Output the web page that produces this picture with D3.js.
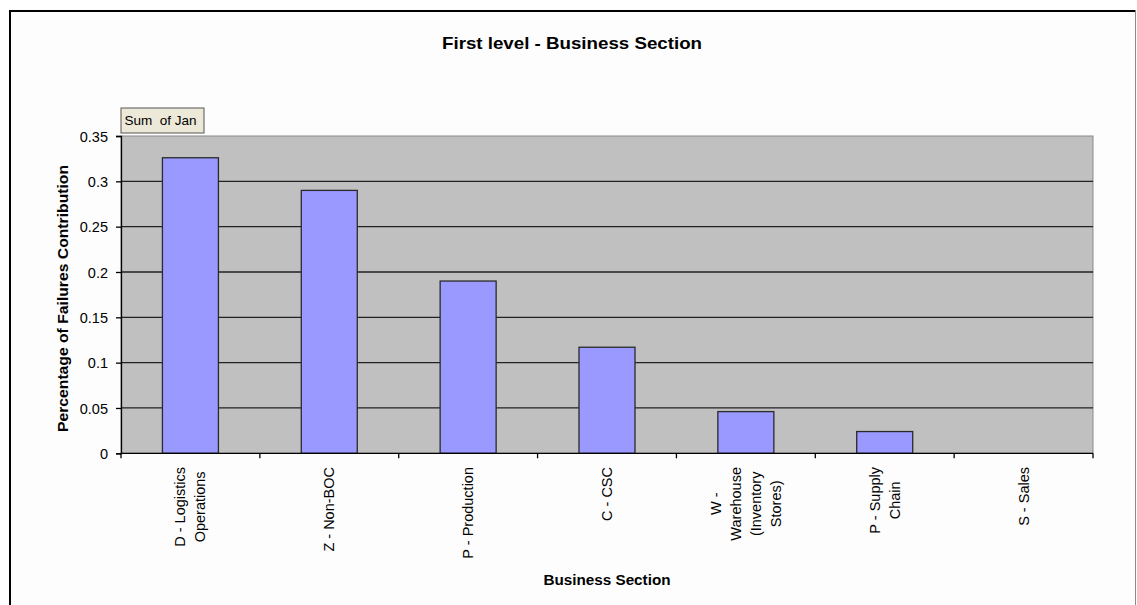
<!DOCTYPE html>
<html>
<head>
<meta charset="utf-8">
<script src="https://cdn.jsdelivr.net/npm/d3@7/dist/d3.min.js"></script>
<style>
  html, body { margin: 0; padding: 0; background: #ffffff; }
  svg { display: block; }
</style>
</head>
<body>
<svg id="chart" width="1137" height="605"></svg>
<script>
// ---- data ----
const categories = [
  ["D - Logistics", "Operations"],
  ["Z - Non-BOC"],
  ["P - Production"],
  ["C - CSC"],
  ["W -", "Warehouse", "(Inventory", "Stores)"],
  ["P - Supply", "Chain"],
  ["S - Sales"]
];
const values = [0.326, 0.290, 0.190, 0.117, 0.046, 0.024, 0];
const yTicks = [0, 0.05, 0.1, 0.15, 0.2, 0.25, 0.3, 0.35];
const yTickLabels = ["0", "0.05", "0.1", "0.15", "0.2", "0.25", "0.3", "0.35"];
const chartTitle = "First level - Business Section";
const xTitle = "Business Section";
const yTitle = "Percentage of Failures Contribution";
const fieldButton = "Sum  of Jan";

// ---- layout ----
const svg = d3.select("#chart");
const plot = { left: 121, right: 1093, top: 136, bottom: 453.3 };
const font = "'Liberation Sans', Arial, sans-serif";

// chart area background and frame
svg.append("rect").attr("x", 10).attr("y", 11).attr("width", 1125).attr("height", 600)
  .attr("fill", "#fdfdfd");
svg.append("path").attr("d", "M10,605 L10,11 L1135.5,11")
  .attr("fill", "none").attr("stroke", "#000").attr("stroke-width", 2);
svg.append("path").attr("d", "M1135.5,11 L1135.5,605")
  .attr("fill", "none").attr("stroke", "#8a8a8a").attr("stroke-width", 1);

const x = d3.scaleBand().domain(d3.range(categories.length))
  .range([plot.left, plot.right]).paddingInner(0).paddingOuter(0);
const y = d3.scaleLinear().domain([0, 0.35]).range([plot.bottom, plot.top]);

// plot area
svg.append("rect").attr("x", plot.left).attr("y", plot.top)
  .attr("width", plot.right - plot.left).attr("height", plot.bottom - plot.top)
  .attr("fill", "#c0c0c0").attr("stroke", "#8a8a8a").attr("stroke-width", 1);

// gridlines
svg.append("g").selectAll("line").data(yTicks.filter(d => d > 0 && d < 0.35)).join("line")
  .attr("x1", plot.left).attr("x2", plot.right)
  .attr("y1", d => y(d)).attr("y2", d => y(d))
  .attr("stroke", "#222").attr("stroke-width", 1.3);

// bars
const barW = 56;
svg.append("g").selectAll("rect").data(values).join("rect")
  .attr("x", (d, i) => x(i) + x.bandwidth() / 2 - barW / 2)
  .attr("width", barW)
  .attr("y", d => y(d))
  .attr("height", d => y(0) - y(d))
  .attr("fill", "#9999ff")
  .attr("stroke", d => d > 0 ? "#2a2a2a" : "none")
  .attr("stroke-width", 1.3);

// y axis
const yAxis = d3.axisLeft(y).tickValues(yTicks)
  .tickFormat((d, i) => yTickLabels[i]).tickSize(5).tickPadding(8);
const gy = svg.append("g").attr("transform", `translate(${plot.left},0)`).call(yAxis);
gy.select(".domain").attr("stroke", "#000").attr("stroke-width", 1.3);
gy.selectAll(".tick line").attr("stroke", "#000").attr("stroke-width", 1.3);
gy.selectAll(".tick text").attr("font-family", font).attr("font-size", 14.5)
  .attr("fill", "#000").attr("dy", "0.36em");

// x axis line + ticks at category boundaries
svg.append("line").attr("x1", plot.left).attr("x2", plot.right)
  .attr("y1", plot.bottom).attr("y2", plot.bottom)
  .attr("stroke", "#000").attr("stroke-width", 1.3);
const bounds = d3.range(categories.length + 1).map(i => plot.left + i * x.step());
svg.append("g").selectAll("line").data(bounds).join("line")
  .attr("x1", d => d).attr("x2", d => d)
  .attr("y1", plot.bottom).attr("y2", plot.bottom + 5)
  .attr("stroke", "#000").attr("stroke-width", 1.3);

// category labels (rotated, lines centred within block, block top at y=467)
const labelTop = 467;
const lineGap = 20;
const catG = svg.append("g");
categories.forEach((lines, i) => {
  const cx = x(i) + x.bandwidth() / 2;
  const g = catG.append("g");
  const texts = lines.map((ln, j) => g.append("text")
    .attr("font-family", font).attr("font-size", 14.5).attr("fill", "#000")
    .attr("text-anchor", "middle").text(ln));
  const maxLen = d3.max(texts, t => t.node().getComputedTextLength());
  const cy = labelTop + maxLen / 2;
  texts.forEach((t, j) => {
    const lx = cx + (j - (lines.length - 1) / 2) * lineGap + 5;
    t.attr("transform", `translate(${lx},${cy}) rotate(-90)`);
  });
});

// title
svg.append("text").attr("x", 572).attr("y", 49)
  .attr("text-anchor", "middle").attr("font-family", font).attr("font-weight", "bold")
  .attr("font-size", 17).attr("textLength", 260).attr("lengthAdjust", "spacingAndGlyphs")
  .text(chartTitle);

// x axis title
svg.append("text").attr("x", 607).attr("y", 585)
  .attr("text-anchor", "middle").attr("font-family", font).attr("font-weight", "bold")
  .attr("font-size", 14.5).attr("textLength", 127).attr("lengthAdjust", "spacingAndGlyphs")
  .text(xTitle);

// y axis title
svg.append("text").attr("transform", "translate(68,298.5) rotate(-90)")
  .attr("text-anchor", "middle").attr("font-family", font).attr("font-weight", "bold")
  .attr("font-size", 14.5).attr("textLength", 267).attr("lengthAdjust", "spacingAndGlyphs")
  .text(yTitle);

// field button "Sum of Jan"
svg.append("rect").attr("x", 121).attr("y", 108).attr("width", 83).attr("height", 25)
  .attr("fill", "#ece9d8").attr("stroke", "#555").attr("stroke-width", 1);
svg.append("text").attr("x", 124.5).attr("y", 125)
  .attr("font-family", font).attr("font-size", 13.5).attr("fill", "#000")
  .attr("xml:space", "preserve").style("white-space", "pre")
  .text(fieldButton);
</script>
</body>
</html>
